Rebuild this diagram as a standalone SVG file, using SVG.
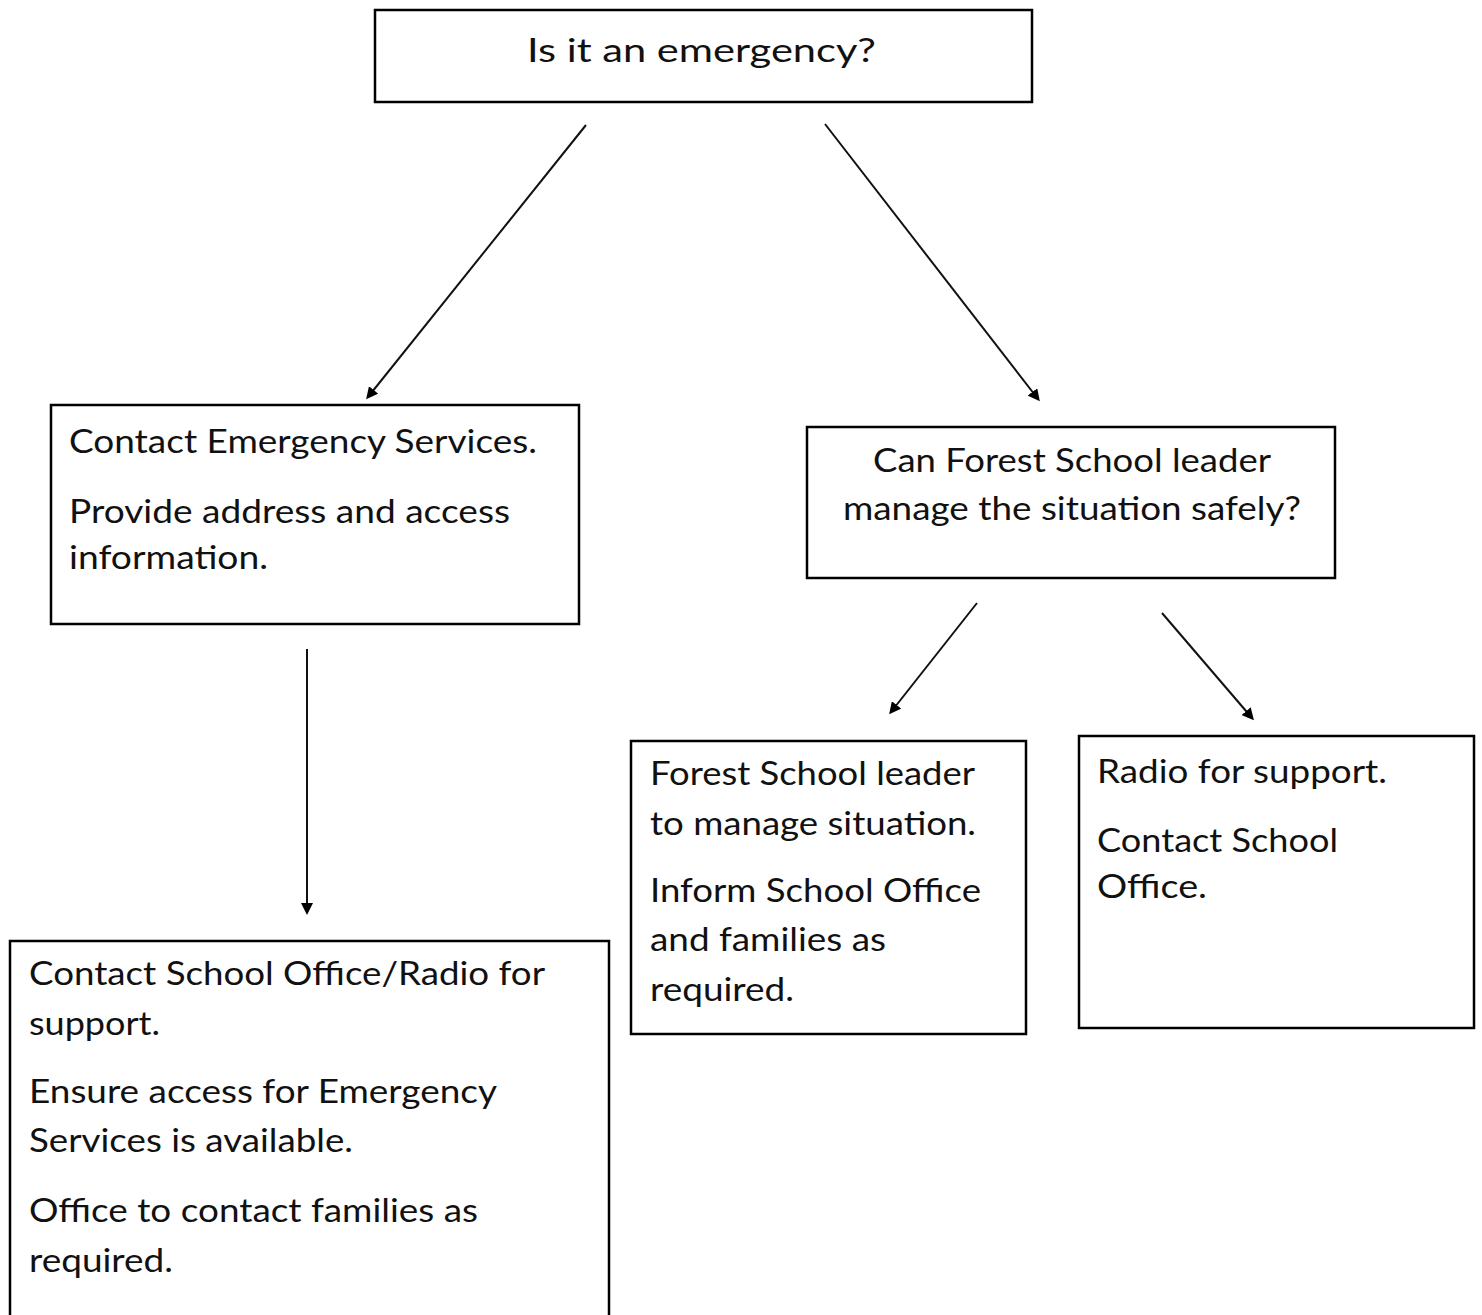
<svg xmlns="http://www.w3.org/2000/svg" width="1482" height="1315" viewBox="0 0 1482 1315">
<style>
.box{fill:#fff;stroke:#000;stroke-width:2.5}
.t{font-family:Lato,"Liberation Sans",sans-serif;font-size:33px;fill:#111}
.c{text-anchor:middle}
.con{stroke:#111;stroke-width:2;fill:none;marker-end:url(#ah)}
</style>
<defs>
<marker id="ah" markerWidth="6" markerHeight="6" refX="4.5" refY="3" orient="auto" markerUnits="strokeWidth">
<path d="M0,0 L6,3 L0,6 Z" fill="#000"/>
</marker>
</defs>
<rect width="1482" height="1315" fill="#fff"/>
<g id="connectors">
<line class="con" x1="586" y1="125" x2="368" y2="397"/>
<line class="con" x1="825" y1="124" x2="1038" y2="399"/>
<line class="con" x1="307" y1="649" x2="307" y2="912"/>
<line class="con" x1="977" y1="603" x2="891" y2="712"/>
<line class="con" x1="1162" y1="613" x2="1252" y2="718"/>
</g>
<g id="n1">
<rect class="box" x="375" y="10" width="657" height="92"/>
<text class="t" x="527" y="62" textLength="349" lengthAdjust="spacingAndGlyphs">Is it an emergency?</text>
</g>
<g id="n2">
<rect class="box" x="51" y="405" width="528" height="219"/>
<text class="t" x="69" y="453" textLength="468" lengthAdjust="spacingAndGlyphs">Contact Emergency Services.</text>
<text class="t" x="69" y="523" textLength="441" lengthAdjust="spacingAndGlyphs">Provide address and access</text>
<text class="t" x="69" y="569" textLength="199" lengthAdjust="spacingAndGlyphs">information.</text>
</g>
<g id="n3">
<rect class="box" x="807" y="427" width="528" height="151"/>
<text class="t" x="873" y="472" textLength="398" lengthAdjust="spacingAndGlyphs">Can Forest School leader</text>
<text class="t" x="843" y="520" textLength="458" lengthAdjust="spacingAndGlyphs">manage the situation safely?</text>
</g>
<g id="n4">
<rect class="box" x="631" y="741" width="395" height="293"/>
<text class="t" x="650" y="785" textLength="325" lengthAdjust="spacingAndGlyphs">Forest School leader</text>
<text class="t" x="650" y="835" textLength="326" lengthAdjust="spacingAndGlyphs">to manage situation.</text>
<text class="t" x="650" y="902" textLength="331" lengthAdjust="spacingAndGlyphs">Inform School Office</text>
<text class="t" x="650" y="951" textLength="236" lengthAdjust="spacingAndGlyphs">and families as</text>
<text class="t" x="650" y="1001" textLength="144" lengthAdjust="spacingAndGlyphs">required.</text>
</g>
<g id="n5">
<rect class="box" x="1079" y="736" width="395" height="292"/>
<text class="t" x="1097" y="783" textLength="290" lengthAdjust="spacingAndGlyphs">Radio for support.</text>
<text class="t" x="1097" y="852" textLength="241" lengthAdjust="spacingAndGlyphs">Contact School</text>
<text class="t" x="1097" y="898" textLength="110" lengthAdjust="spacingAndGlyphs">Office.</text>
</g>
<g id="n6">
<rect class="box" x="10" y="941" width="599" height="390"/>
<text class="t" x="29" y="985" textLength="516" lengthAdjust="spacingAndGlyphs">Contact School Office/Radio for</text>
<text class="t" x="29" y="1035" textLength="131" lengthAdjust="spacingAndGlyphs">support.</text>
<text class="t" x="29" y="1103" textLength="468" lengthAdjust="spacingAndGlyphs">Ensure access for Emergency</text>
<text class="t" x="29" y="1152" textLength="324" lengthAdjust="spacingAndGlyphs">Services is available.</text>
<text class="t" x="29" y="1222" textLength="449" lengthAdjust="spacingAndGlyphs">Office to contact families as</text>
<text class="t" x="29" y="1272" textLength="144" lengthAdjust="spacingAndGlyphs">required.</text>
</g>
</svg>
